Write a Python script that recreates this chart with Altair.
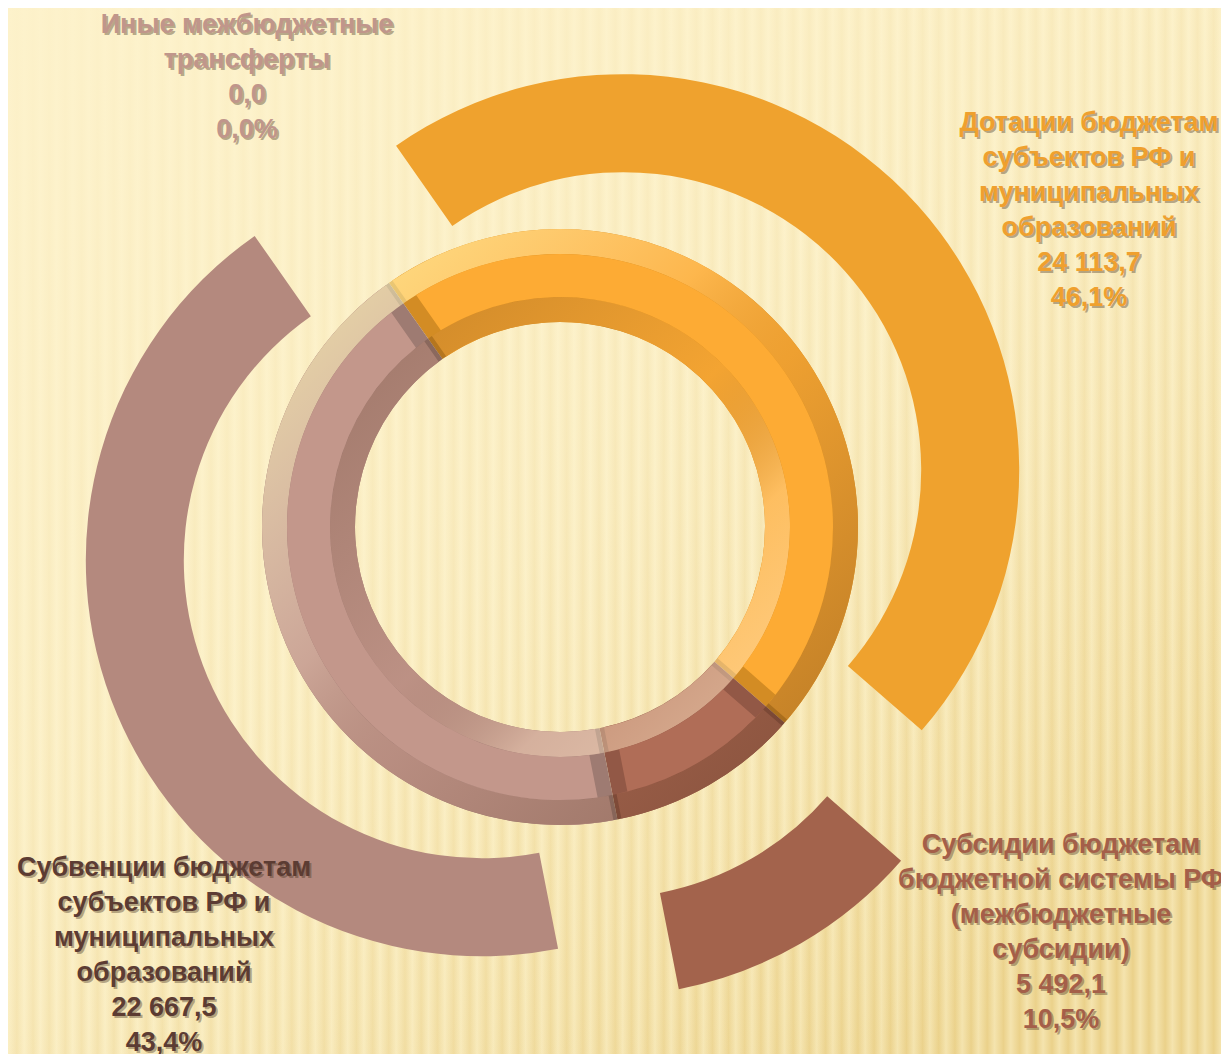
import math
import altair as alt
import pandas as pd

# ---------------- data ----------------
categories = [
    "Дотации бюджетам\nсубъектов РФ и\nмуниципальных\nобразований",
    "Субсидии бюджетам\nбюджетной системы РФ\n(межбюджетные\nсубсидии)",
    "Субвенции бюджетам\nсубъектов РФ и\nмуниципальных\nобразований",
    "Иные межбюджетные\nтрансферты",
]
values = [24113.7, 5492.1, 22667.5, 0.0]

# ---------------- styles / layout ----------------
W, H = 1213, 1046
CX, CY = 552, 519
START = math.radians(-35) + 2 * math.pi
EXPLODE = 85
R_OUT, R_IN = 298, 205
BEV = 25

outer_colors = ["#EFA22E", "#A3634C", "#B4897E", "#D9B3A8"]
face_colors = ["#FDAB34", "#B06D57", "#C3978B", "#E6C0B4"]
edge_colors = ["#D38C24", "#925846", "#9E7B72", "#C09A90"]
text_colors = ["#EFA02E", "#A45F49", "#5C3C33", "#C0968B"]
# anchor of the first text line of each label
label_pos = [(1081, 115), (1053, 837), (156, 860), (239, 17)]

total = sum(values)


def fmt_num(v):
    return f"{v:,.1f}".replace(",", " ").replace(".", ",")


def fmt_pct(v):
    return f"{(v / total * 100 if total else 0):.1f}".replace(".", ",") + "%"


df = pd.DataFrame({"idx": list(range(len(categories))), "cat": categories, "value": values})
df["label"] = [f"{c}\n{fmt_num(v)}\n{fmt_pct(v)}" for c, v in zip(categories, values)]
df["lx"] = [p[0] for p in label_pos]
df["ly"] = [p[1] for p in label_pos]

one = pd.DataFrame({"k": [0]})

base = (
    alt.Chart(df)
    .transform_window(cum="sum(value)", sort=[alt.SortField("idx")], frame=[None, 0])
    .transform_joinaggregate(total="sum(value)")
    .transform_calculate(
        t0=f"{START} + 2*PI*(datum.cum - datum.value)/datum.total",
        t1=f"{START} + 2*PI*datum.cum/datum.total",
    )
    .transform_calculate(tm="(datum.t0 + datum.t1)/2")
    .transform_calculate(
        ex=f"{CX} + {EXPLODE}*sin(datum.tm)",
        ey=f"{CY} - {EXPLODE}*cos(datum.tm)",
    )
)

th = alt.Theta("t0:Q", scale=None)
th2 = alt.Theta2("t1:Q")


def col(rng):
    return alt.Color("cat:N", scale=alt.Scale(domain=categories, range=rng), legend=None)


full = dict(x=alt.value(0), x2=alt.value(W), y=alt.value(0), y2=alt.value(H))

bg_grad = alt.Gradient(
    gradient="linear",
    stops=[
        alt.GradientStop(offset=0, color="#FDF2CB"),
        alt.GradientStop(offset=0.55, color="#F9EBBB"),
        alt.GradientStop(offset=1, color="#F0DA98"),
    ],
    x1=0, y1=0, x2=0.7, y2=1,
)
n_str = 75
stops = []
for i in range(n_str):
    stops.append(alt.GradientStop(offset=i / n_str, color="rgba(255,250,225,0.3)"))
    stops.append(alt.GradientStop(offset=(i + 0.55) / n_str, color="rgba(222,188,105,0.3)"))
stops.append(alt.GradientStop(offset=1, color="rgba(255,250,225,0.3)"))
stripe_grad = alt.Gradient(gradient="linear", stops=stops, x1=0, y1=0, x2=1, y2=0)
fade_grad = alt.Gradient(
    gradient="linear",
    stops=[
        alt.GradientStop(offset=0, color="rgba(253,242,203,0.95)"),
        alt.GradientStop(offset=0.45, color="rgba(253,242,203,0.6)"),
        alt.GradientStop(offset=1, color="rgba(253,242,203,0)"),
    ],
    x1=0, y1=0, x2=0.8, y2=1,
)

bg = alt.Chart(one).mark_rect(fill=bg_grad).encode(**full)
stripes = alt.Chart(one).mark_rect(fill=stripe_grad).encode(**full)
fade = alt.Chart(one).mark_rect(fill=fade_grad).encode(**full)

outer_bands = base.mark_arc(radius=396, radius2=298).encode(
    theta=th, theta2=th2,
    x=alt.X("ex:Q", scale=None, axis=None),
    y=alt.Y("ey:Q", scale=None, axis=None),
    color=col(outer_colors),
)

ctr = dict(x=alt.value(CX), y=alt.value(CY))
ring_edge = base.mark_arc(radius=R_OUT, radius2=R_IN).encode(theta=th, theta2=th2, color=col(edge_colors), **ctr)
ring_ob = base.mark_arc(radius=R_OUT, radius2=R_OUT - BEV, padAngle=0.02).encode(
    theta=th, theta2=th2, color=col(face_colors), **ctr)
ring_ib = base.mark_arc(radius=R_IN + BEV, radius2=R_IN, padAngle=0.03).encode(
    theta=th, theta2=th2, color=col(face_colors), **ctr)

ob_grad = alt.Gradient(
    gradient="linear",
    stops=[
        alt.GradientStop(offset=0, color="rgba(255,255,170,0.75)"),
        alt.GradientStop(offset=0.4, color="rgba(255,250,220,0.15)"),
        alt.GradientStop(offset=0.55, color="rgba(60,30,10,0.08)"),
        alt.GradientStop(offset=1, color="rgba(60,30,10,0.38)"),
    ],
    x1=0, y1=0, x2=1, y2=1,
)
ib_grad = alt.Gradient(
    gradient="linear",
    stops=[
        alt.GradientStop(offset=0, color="rgba(60,30,10,0.28)"),
        alt.GradientStop(offset=0.5, color="rgba(60,30,10,0.05)"),
        alt.GradientStop(offset=0.7, color="rgba(255,235,200,0.3)"),
        alt.GradientStop(offset=1, color="rgba(255,235,200,0.6)"),
    ],
    x1=0, y1=0, x2=1, y2=1,
)
ov_outer = alt.Chart(one).mark_arc(
    radius=R_OUT, radius2=R_OUT - BEV, theta=0, theta2=2 * math.pi, fill=ob_grad).encode(**ctr)
ov_inner = alt.Chart(one).mark_arc(
    radius=R_IN + BEV, radius2=R_IN, theta=0, theta2=2 * math.pi, fill=ib_grad).encode(**ctr)

face = base.mark_arc(radius=R_OUT - BEV, radius2=R_IN + BEV, padAngle=0.085).encode(
    theta=th, theta2=th2, color=col(face_colors), **ctr)

txt = dict(
    lineBreak="\n", fontSize=27, fontWeight="bold", font="Liberation Sans",
    lineHeight=35, align="center", baseline="middle",
)
lx = alt.X("lx:Q", scale=None, axis=None)
ly = alt.Y("ly:Q", scale=None, axis=None)
shadow = base.mark_text(dx=2, dy=2, color="rgba(70,50,30,0.4)", **txt).encode(x=lx, y=ly, text="label:N")
labels = base.mark_text(**txt).encode(x=lx, y=ly, text="label:N", color=col(text_colors))

chart = (
    alt.layer(bg, stripes, fade, outer_bands, ring_edge, ring_ob, ring_ib, ov_outer, ov_inner, face, shadow, labels)
    .resolve_scale(color="independent")
    .properties(width=W, height=H, padding=0, autosize="none", background="#FBEFC6")
    .configure_view(stroke=None)
)

chart.save("out.html", embed_options={"renderer": "svg", "actions": False})
